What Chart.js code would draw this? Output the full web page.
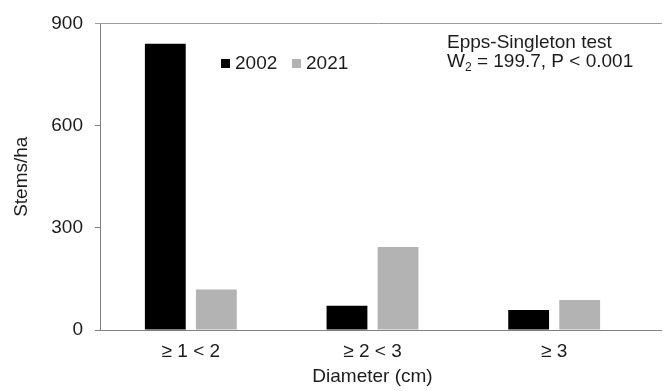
<!DOCTYPE html>
<html>
<head>
<meta charset="utf-8">
<script src="https://cdn.jsdelivr.net/npm/chart.js@4/dist/chart.umd.min.js"></script>
<style>
  html, body { margin: 0; padding: 0; background: #fff; }
  #wrap { width: 665px; height: 391px; position: relative; }
</style>
</head>
<body>
<div id="wrap"><canvas id="c"></canvas></div>
<script>
// Stem density by diameter class, two survey years
const categories = ['≥ 1 < 2', '≥ 2 < 3', '≥ 3'];
const years = ['2002', '2021'];
const stems2002 = [840, 71, 59];
const stems2021 = [119, 244, 88];
const yTicks = [0, 300, 600, 900];
const testTitle = 'Epps-Singleton test';
const testStat = { symbol: 'W', sub: '2', rest: ' = 199.7, P < 0.001' };

const FONT = "'Liberation Sans', Arial, sans-serif";
const FS = 19;
const TEXT = '#1c1c1c';
const AXIS = '#808080';

// Baseline and top frame line run slightly past the plot to the right edge
const frameLines = {
  id: 'frameLines',
  afterDraw(chart) {
    const { ctx, chartArea, scales } = chart;
    const y0 = Math.round(scales.y.getPixelForValue(0)) + 0.5;
    const yTop = Math.round(scales.y.getPixelForValue(yTicks[yTicks.length - 1])) + 0.5;
    ctx.save();
    ctx.lineWidth = 1;
    ctx.strokeStyle = AXIS;
    ctx.beginPath();
    ctx.moveTo(chartArea.left, y0);
    ctx.lineTo(662, y0);
    ctx.stroke();
    ctx.strokeStyle = '#9c9c9c';
    ctx.beginPath();
    ctx.moveTo(chartArea.left - 5, yTop);
    ctx.lineTo(662, yTop);
    ctx.stroke();
    ctx.restore();
  }
};

// Inline legend and test statistic inside the plot
const insetText = {
  id: 'insetText',
  afterDraw(chart) {
    const { ctx } = chart;
    ctx.save();
    ctx.font = FS + 'px ' + FONT;
    ctx.textBaseline = 'middle';
    ctx.textAlign = 'left';
    const pos = [221, 292];
    chart.data.datasets.forEach((ds, i) => {
      ctx.fillStyle = ds.backgroundColor;
      ctx.fillRect(pos[i], 59, 9, 9);
      ctx.fillStyle = TEXT;
      ctx.fillText(ds.label, pos[i] + 14, 63.5);
    });

    ctx.textBaseline = 'alphabetic';
    ctx.fillStyle = TEXT;
    ctx.fillText(testTitle, 447, 48);
    let x = 447;
    ctx.fillText(testStat.symbol, x, 67);
    x += ctx.measureText(testStat.symbol).width;
    ctx.font = '12px ' + FONT;
    ctx.fillText(testStat.sub, x, 71);
    x += ctx.measureText(testStat.sub).width;
    ctx.font = FS + 'px ' + FONT;
    ctx.fillText(testStat.rest, x, 67);
    ctx.restore();
  }
};

new Chart(document.getElementById('c'), {
  type: 'bar',
  data: {
    labels: categories,
    datasets: [
      { label: years[0], data: stems2002, backgroundColor: '#000000',
        categoryPercentage: 0.562, barPercentage: 0.8 },
      { label: years[1], data: stems2021, backgroundColor: '#b3b3b3',
        categoryPercentage: 0.562, barPercentage: 0.8 }
    ]
  },
  options: {
    responsive: true,
    maintainAspectRatio: false,
    animation: false,
    layout: { padding: { top: 19, right: 20, left: 0, bottom: 0 } },
    plugins: {
      legend: { display: false },
      tooltip: { enabled: false }
    },
    scales: {
      x: {
        grid: { display: false, drawTicks: false },
        border: { display: false },
        ticks: { color: TEXT, font: { family: FONT, size: FS }, padding: 10.5, maxRotation: 0 },
        title: { display: true, text: 'Diameter (cm)', color: TEXT,
                 font: { family: FONT, size: FS }, padding: { top: 0, bottom: 2.5 } },
        afterFit(scale) { scale.height = 61; }
      },
      y: {
        min: 0,
        max: yTicks[yTicks.length - 1],
        afterBuildTicks(scale) { scale.ticks = yTicks.map(v => ({ value: v })); },
        grid: { display: true, drawOnChartArea: false, drawTicks: true, tickLength: 5, color: AXIS },
        border: { display: true, color: AXIS },
        ticks: { color: TEXT, font: { family: FONT, size: FS }, padding: 12 },
        title: { display: true, text: 'Stems/ha', color: TEXT,
                 font: { family: FONT, size: FS }, padding: { top: 10.5, bottom: 0 } },
        afterFit(scale) { scale.width = 100; }
      }
    }
  },
  plugins: [frameLines, insetText]
});
</script>
</body>
</html>
